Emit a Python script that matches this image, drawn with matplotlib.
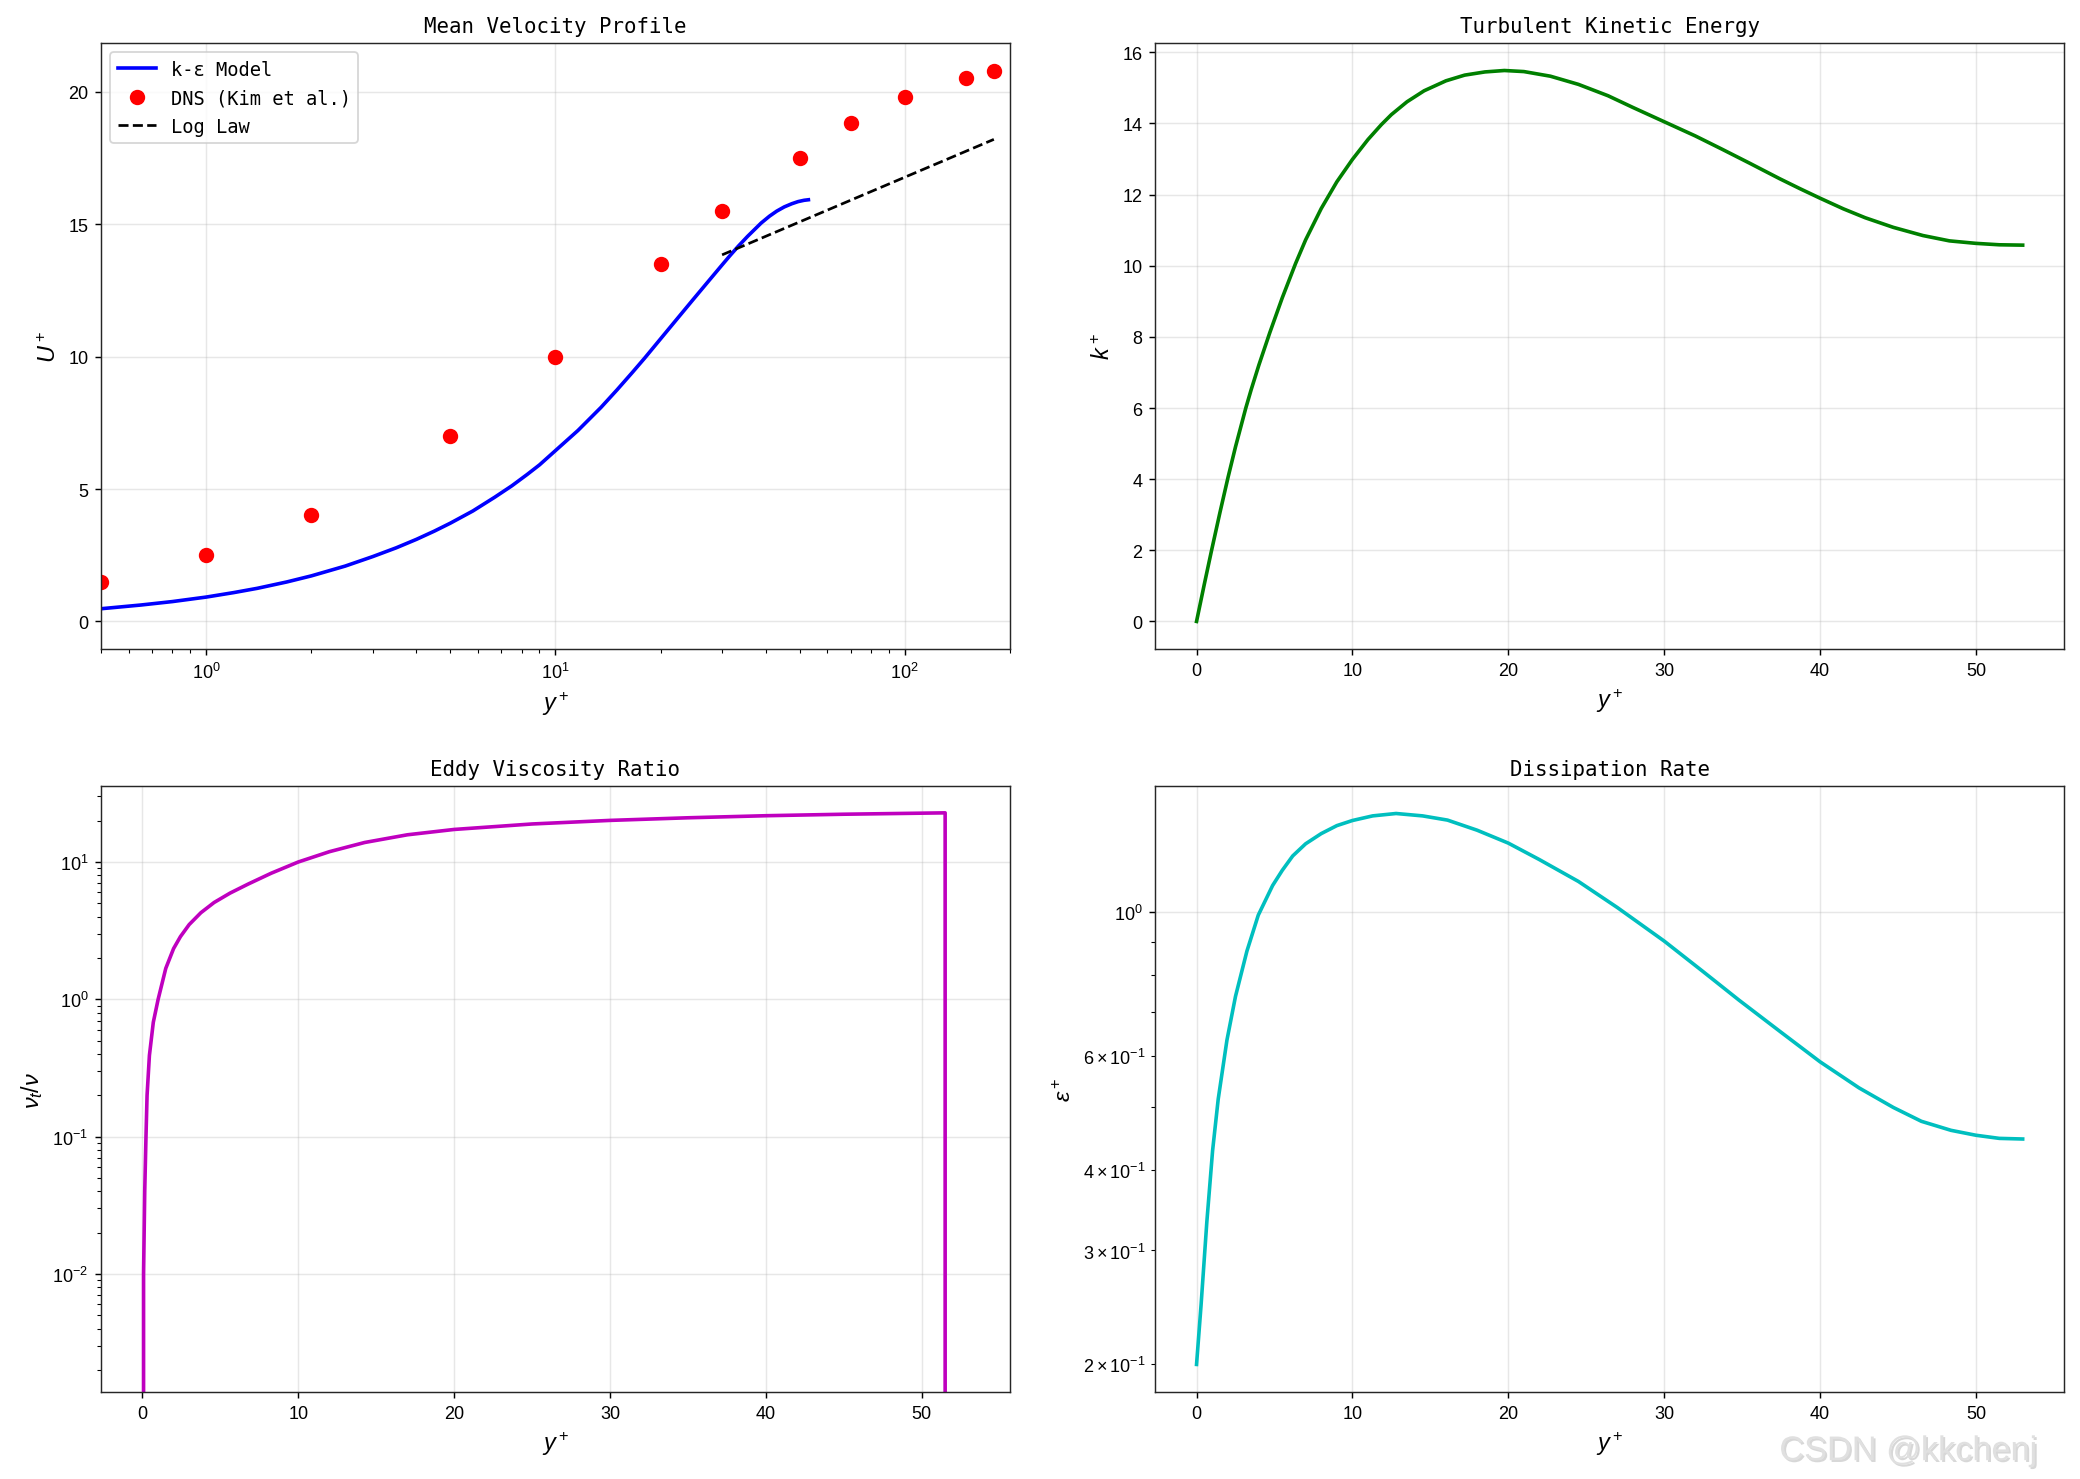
import matplotlib
matplotlib.use("Agg")
import matplotlib.pyplot as plt
import matplotlib.patheffects as pe

plt.rcParams['font.family'] = ['Liberation Sans', 'DejaVu Sans']
plt.rcParams['mathtext.fontset'] = 'custom'
plt.rcParams['mathtext.rm'] = 'Liberation Sans'
plt.rcParams['mathtext.it'] = 'Liberation Sans:italic'
plt.rcParams['mathtext.bf'] = 'Liberation Sans:bold'
plt.rcParams['axes.edgecolor'] = '#262626'
plt.rcParams['font.size'] = 10

# ---------------- data ----------------
# Mean velocity profile (k-epsilon model)
yplus_u = [0.5, 0.65, 0.8, 1, 1.2, 1.4, 1.7, 2, 2.5, 3, 3.5, 4, 4.5, 5, 5.8, 6.7,
           7.5, 8.3, 9, 10, 11.6, 13.5, 15, 16.6, 18, 20, 22, 24.7, 27, 30, 31.5,
           33.4, 35.5, 38.8, 41, 43, 45.2, 47.5, 49.5, 51.5, 53]
u_model = [0.48, 0.62, 0.75, 0.92, 1.09, 1.25, 1.49, 1.72, 2.09, 2.45, 2.78, 3.1,
           3.41, 3.71, 4.17, 4.69, 5.12, 5.55, 5.91, 6.45, 7.21, 8.08, 8.74, 9.4,
           9.94, 10.67, 11.33, 12.13, 12.74, 13.46, 13.79, 14.17, 14.54, 15.04,
           15.3, 15.49, 15.65, 15.77, 15.85, 15.9, 15.92]
# DNS reference points
dns_yplus = [0.5, 1, 2, 5, 10, 20, 30, 50, 70, 100, 150, 180]
dns_u = [1.5, 2.5, 4.0, 7.0, 10.0, 13.5, 15.5, 17.5, 18.8, 19.8, 20.5, 20.8]
# Log law segment
loglaw_yplus = [30, 180]
loglaw_u = [13.84, 18.2]

# Turbulent kinetic energy
yplus_k = [0, 0.5, 0.95, 1.5, 2.02, 2.5, 3.16, 3.5, 4, 4.7, 5.5, 6.35, 7, 8, 9, 10,
           11, 11.86, 12.5, 13.5, 14.6, 16, 17.2, 18.5, 19.75, 21, 22.7, 24.5, 26.4,
           28, 30, 32, 33.7, 35.5, 37.4, 38.7, 40, 41.5, 42.9, 44.7, 46.6, 48.3,
           50, 51.5, 53]
k_plus = [0, 1.05, 1.97, 3.06, 4.05, 4.91, 6.0, 6.51, 7.21, 8.12, 9.1, 10.06, 10.73,
          11.61, 12.36, 12.99, 13.55, 13.97, 14.25, 14.61, 14.92, 15.2, 15.36, 15.45,
          15.49, 15.46, 15.33, 15.1, 14.78, 14.45, 14.05, 13.65, 13.28, 12.88, 12.45,
          12.17, 11.9, 11.6, 11.35, 11.08, 10.85, 10.7, 10.63, 10.59, 10.58]

# Eddy viscosity ratio
yplus_nut = [0, 0.075, 0.15, 0.23, 0.30, 0.45, 0.7, 1.01, 1.5, 2.0, 2.44, 3.0, 3.75,
             4.6, 5.63, 6.8, 8.26, 10, 12, 14.26, 17, 20, 25, 30, 35, 40, 45, 51.5,
             51.6, 52, 53]
nut_ratio = [0, 0.01, 0.04, 0.1, 0.2, 0.39, 0.68, 1.0, 1.68, 2.34, 2.86, 3.5, 4.27,
             5.07, 5.94, 6.92, 8.28, 10.0, 11.89, 13.87, 15.78, 17.26, 18.92, 20.09,
             20.99, 21.73, 22.28, 22.8, 0, 0, 0]

# Dissipation rate
yplus_eps = [0, 0.29, 0.66, 1.03, 1.39, 1.95, 2.5, 3.23, 3.96, 4.88, 5.5, 6.17, 7, 8,
             9, 10, 11.3, 12.8, 14.5, 16.1, 18, 20, 22, 24.5, 27, 30, 32.5, 34.8,
             37.5, 40, 42.5, 44.7, 46.5, 48.4, 50, 51.5, 53]
eps_plus = [0.2, 0.247, 0.332, 0.428, 0.514, 0.634, 0.741, 0.87, 0.989, 1.099, 1.16,
            1.221, 1.275, 1.322, 1.36, 1.385, 1.408, 1.42, 1.408, 1.387, 1.338, 1.278,
            1.205, 1.115, 1.016, 0.902, 0.809, 0.731, 0.652, 0.587, 0.535, 0.499,
            0.475, 0.46, 0.452, 0.447, 0.446]

titles = ['Mean Velocity Profile', 'Turbulent Kinetic Energy',
          'Eddy Viscosity Ratio', 'Dissipation Rate']

title_font = dict(family=['DejaVu Sans Mono', 'Noto Sans CJK SC'], size=11.5)
label_size = 13

fig, axes = plt.subplots(2, 2, figsize=(16, 11.3846), dpi=130)
fig.subplots_adjust(left=0.0486, right=0.9923, top=0.9703, bottom=0.0588,
                    wspace=0.16, hspace=0.226)

# Panel 1
ax = axes[0, 0]
ax.semilogx(yplus_u, u_model, color='b', lw=2, label='k-ε Model')
ax.semilogx(dns_yplus, dns_u, 'o', color='r', ms=7.5, label='DNS (Kim et al.)')
ax.semilogx(loglaw_yplus, loglaw_u, 'k--', lw=1.5, label='Log Law')
ax.set_xlim(0.5, 200)
ax.set_ylim(-1.04, 21.84)
ax.set_xlabel('$y^+$', fontsize=label_size)
ax.set_ylabel('$U^+$', fontsize=label_size)
ax.set_title(titles[0], fontdict=title_font)
ax.legend(loc='upper left', prop=dict(family=['DejaVu Sans Mono', 'Noto Sans CJK SC'], size=10.4))
ax.grid(True, alpha=0.3)

# Panel 2
ax = axes[0, 1]
ax.plot(yplus_k, k_plus, color='g', lw=2)
ax.set_xlabel('$y^+$', fontsize=label_size)
ax.set_ylabel('$k^+$', fontsize=label_size)
ax.set_title(titles[1], fontdict=title_font)
ax.grid(True, alpha=0.3)

# Panel 3
ax = axes[1, 0]
ax.plot(yplus_nut, nut_ratio, color='m', lw=2)
ax.set_yscale('log', nonpositive='clip')
ax.set_ylim(0.00138, 35.8)
ax.set_xlabel('$y^+$', fontsize=label_size)
ax.set_ylabel(r'$\nu_t/\nu$', fontsize=label_size)
ax.set_title(titles[2], fontdict=title_font)
ax.grid(True, alpha=0.3)

# Panel 4
ax = axes[1, 1]
ax.plot(yplus_eps, eps_plus, color='c', lw=2)
ax.set_yscale('log')
ax.set_xlabel('$y^+$', fontsize=label_size)
ax.set_ylabel(r'$\epsilon^+$', fontsize=label_size)
ax.set_title(titles[3], fontdict=title_font)
ax.grid(True, alpha=0.3)

fig.text(0.979, 0.008, 'CSDN @kkchenj', ha='right', va='bottom', fontsize=19,
         color='#e0e0e0',
         path_effects=[pe.withSimplePatchShadow(offset=(1, -1), shadow_rgbFace='#b0b0b0', alpha=0.5)])

fig.savefig('out.png', dpi=130)
